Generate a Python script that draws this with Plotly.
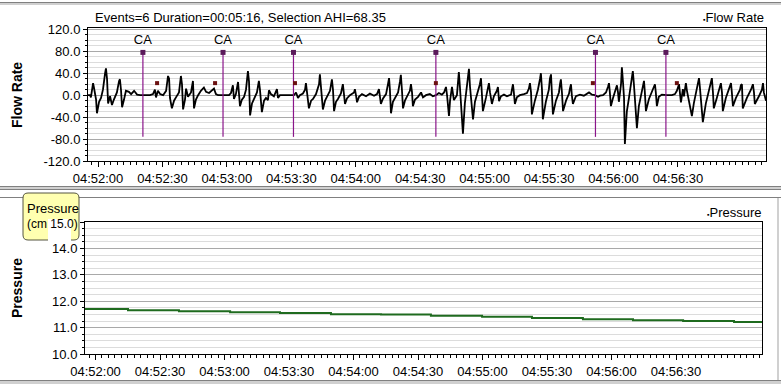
import plotly.graph_objects as go
import pandas as pd

BASE = pd.Timestamp("2000-01-01 04:52:00")

# ---------------- data (seconds relative to 04:52:00) ----------------
flow_t = [
    -4.7, -3.7, -3.3, -2.8, -2.3, -1.9, -0.9, -0.5, 0.5, 1.4, 2.3, 3.3, 3.7, 4.2, 4.7, 5.6, 6.5, 7.4, 8.8, 9.8,
    10.2, 10.7, 11.2, 12.1, 13.0, 14.4, 15.4, 16.8, 18.2, 19.6, 20.9,
    24.2, 25.6, 26.5, 27.0, 27.9, 28.9, 30.3, 31.7, 32.6, 33.1, 33.5, 34.4, 35.4, 36.3, 37.7, 38.6, 39.1, 39.6,
    40.5, 41.0, 41.9, 43.3, 44.2, 44.7, 45.6, 46.6, 47.9, 49.3, 50.3, 51.7, 53.1, 54.0, 54.9, 55.9, 58.2,
    61.0, 61.9, 62.8, 63.3, 64.2, 65.2, 65.6, 66.1, 67.0, 68.0, 68.9, 69.8, 70.3, 70.8, 71.7, 73.1, 74.0, 74.9,
    75.4, 76.3, 77.3, 78.2, 79.1, 79.6, 80.5, 81.9, 83.3, 83.8, 84.7, 91.2,
    92.2, 93.1, 94.0, 95.4, 96.4, 96.8, 97.3, 98.2, 99.2, 100.1,
    101.5, 102.9, 103.3, 103.8, 104.7, 105.7, 106.6, 108.0, 108.9, 109.4,
    109.9, 110.8, 111.7, 113.1, 114.0, 114.5, 115.0, 115.9, 117.3, 119.2,
    119.6, 120.1, 120.6, 121.5, 122.9, 124.8, 126.6, 128.5, 129.9, 130.8,
    131.3, 131.7, 132.7, 134.1, 135.0, 135.5, 135.9, 136.4, 137.3, 138.3,
    139.7, 140.6, 141.0, 141.5, 142.0, 142.9, 143.8, 145.2, 145.7, 146.2,
    146.6, 147.6, 149.0, 150.4, 151.3, 152.7, 154.5, 155.9, 157.3,
    158.7, 160.1, 161.1, 162.0, 162.5, 163.4, 163.9, 164.8, 165.7, 167.1,
    167.6, 168.0, 168.5, 169.9, 170.8, 171.8, 172.7, 173.2, 174.6, 175.5,
    176.9, 177.8, 178.3, 178.8, 179.2, 180.6, 181.5, 182.0, 182.5, 183.4,
    184.3, 185.7, 186.2, 186.7, 187.6, 189.0, 190.4, 192.3, 192.7, 193.2,
    193.6, 194.1, 195.0, 196.4, 198.3, 199.7, 200.6, 201.1, 201.6, 202.0,
    203.4, 204.8, 205.8, 206.2, 206.7, 207.1, 208.5, 209.9, 210.4, 210.9,
    211.3, 211.8, 213.2, 214.6, 215.1, 215.5, 216.0, 216.5, 217.9, 219.3,
    219.7, 220.2, 220.6, 221.1, 222.5, 224.4, 226.2, 228.6, 230.0, 231.4,
    232.8, 233.7, 235.1, 236.5, 237.4, 237.9, 238.3, 238.8, 239.7, 240.7,
    241.6, 242.1, 242.5, 243.5, 243.9, 244.4, 244.9, 245.3, 246.2, 247.2,
    248.1, 249.0, 249.5, 250.0, 250.9, 251.8, 252.8, 253.7, 254.2, 254.6,
    255.1, 256.5, 257.9, 258.8, 259.3, 259.7, 260.2, 261.1, 262.5, 264.9,
    267.2, 268.6, 269.5, 270.5, 270.9, 271.4, 271.9, 272.3, 272.8, 273.2,
    273.7, 274.2, 275.6, 276.5, 277.4, 278.8, 279.8, 280.2, 280.7, 281.6,
    283.0, 284.4, 285.4, 285.8, 286.3, 286.7, 288.1, 289.1, 289.5, 290.0,
    290.5, 290.9, 292.3, 293.7, 294.2, 294.7, 295.1, 295.6, 297.0, 298.9,
    299.3, 299.8, 300.2, 302.1, 304.0, 304.4, 304.9, 305.4, 305.8, 307.7,
    309.1, 309.6, 310.0, 311.0,
]
flow_v = [
    0, 0, -4, 12, 22, 14, -8, -33, -12, -5, 10, 40, 49, 30, -15, -2, -18, -8, 5, 26,
    29, 10, -22, -8, 8, 6, 2, 8, 1, 0, 0,
    0, 2, 10, -4, 8, 2, 0, 8, 35, 30, -5, -24, -10, -4, 5, 35, 20, -26,
    -8, 12, -3, 5, 26, -24, -8, 0, 8, 14, 6, 4, 8, 12, 2, 0, 0,
    0, 4, 18, -7, 2, 24, 5, -20, -8, -3, 10, 44, 25, -37, -15, -4, 5, 26,
    10, -31, -10, -5, -9, 9, 2, -2, 11, -5, 0, 0,
    5, -5, 0, 3, 10, 22, 8, -24, -10, -7,
    2, 20, 38, 15, -26, -10, -4, 8, 29, 10,
    -29, -12, -7, 3, 20, 5, -16, -6, 0, 5,
    11, 0, -13, -3, 2, -2, 3, -1, 2, 11,
    0, -16, -6, 2, 20, 31, 10, -33, -12, -5,
    5, 25, 37, 10, -24, -10, -4, 8, 20, 5,
    -20, -8, -3, 5, -4, 0, 2, -2, 0,
    4, 1, 5, 15, 0, -38, -10, 15, -9, 0,
    20, 42, 15, -70, -15, 15, 48, 15, -44, -12,
    5, 20, 31, 5, -29, -5, 10, 22, 5, -16,
    -2, 8, 15, -11, -2, 1, -2, 1, 10, 20,
    5, -16, -4, 0, 2, 4, 12, 22, 5, -35,
    -10, 10, 30, 40, 10, -44, -12, 10, 30, 38,
    5, -35, -10, 5, 20, 29, 5, -29, -10, 3,
    12, 20, 0, -16, -2, 1, -1, 5, 1, 0,
    -3, -1, 0, 5, 15, 22, 5, -20, -6, 5,
    18, 5, -12, 20, 51, 25, -5, -89, -30, -5,
    20, 44, 20, -5, -60, -20, -2, 15, 26, 5,
    -29, -7, 5, 15, 20, 5, -20, -3, 1, 0,
    0, 2, 8, 20, 5, -13, 0, 11, -2, 10,
    22, 8, -20, -38, -15, 10, 31, 15, -5, -49,
    -15, 10, 25, 31, 5, -24, -5, 10, 18, 22,
    5, -29, -5, 10, 18, 22, 5, -20, -5, 10,
    18, 20, -24, -5, 10, 16, 20, 5, -16, -2,
    10, 22, 5, -10,
]
assert len(flow_t) == len(flow_v)

event_t = [20.9, 58.2, 91.0, 157.3, 231.6, 264.4]
event_labels = ["CA", "CA", "CA", "CA", "CA", "CA"]
event_top = 78
event_bottom = -76
event_label_level = 99

mark_t = [27.5, 54.5, 91.7, 157.3, 230.4, 269.5]
mark_v = [22, 22, 22, 22, 22, 22]

pres_t = [-4.9, 15.1, 38.8, 62.6, 85.8, 109.5, 132.8, 156.0, 179.8, 203.0, 226.7, 250.0, 273.3, 297.0, 310.0]
pres_v = [11.70, 11.66, 11.62, 11.58, 11.55, 11.51, 11.50, 11.45, 11.41, 11.36, 11.32, 11.28, 11.25, 11.21, 11.21]

time_ticks = [0, 30, 60, 90, 120, 150, 180, 210, 240, 270]
flow_yticks = [-120, -80, -40, 0, 40, 80, 120]
pres_yticks = [10, 11, 12, 13, 14, 15]
pres_yticktext = ["10.0", "11.0", "12.0", "13.0", "14.0", ""]
title_text = "Events=6 Duration=00:05:16, Selection AHI=68.35"


def ts(secs):
    return [BASE + pd.Timedelta(seconds=s) for s in secs]


W, H = 781, 386


def px(x):
    return x / W


def py(y):
    return 1 - y / H


FONT = "Liberation Sans, Arial, sans-serif"

fig = go.Figure()

# flow rate
fig.add_trace(go.Scatter(x=ts(flow_t), y=flow_v, mode="lines",
                         line=dict(color="black", width=1.8), xaxis="x", yaxis="y"))

# event lines
ev_x, ev_y = [], []
for t in event_t:
    ev_x += ts([t, t]) + [None]
    ev_y += [event_top, event_bottom, None]
fig.add_trace(go.Scatter(x=ev_x, y=ev_y, mode="lines", line=dict(color="#8a158a", width=1.2),
                         xaxis="x", yaxis="y"))
fig.add_trace(go.Scatter(x=ts(event_t), y=[event_top] * len(event_t), mode="markers",
                         marker=dict(symbol="square", size=5, color="#5a1a5a"), xaxis="x", yaxis="y"))
fig.add_trace(go.Scatter(x=ts(event_t), y=[event_label_level] * len(event_t), mode="text",
                         text=event_labels, textposition="middle center",
                         textfont=dict(family=FONT, size=13, color="black"), xaxis="x", yaxis="y"))
fig.add_trace(go.Scatter(x=ts(mark_t), y=mark_v, mode="markers",
                         marker=dict(symbol="square", size=4, color="#6b1010"), xaxis="x", yaxis="y"))

# pressure
fig.add_trace(go.Scatter(x=ts(pres_t), y=pres_v, mode="lines", line_shape="hv",
                         line=dict(color="#1f6b1f", width=2), xaxis="x2", yaxis="y2"))

common_x = dict(type="date", tickformat="%H:%M:%S", tickmode="array", tickvals=ts(time_ticks),
                ticks="outside", ticklen=5, tickcolor="black", showline=True, linecolor="black",
                linewidth=1, mirror=True, showgrid=False, zeroline=False, automargin=False,
                tickfont=dict(family=FONT, size=13, color="black"),
                minor=dict(tickmode="linear", dtick=3000, tick0=BASE, ticks="outside", ticklen=3,
                           tickcolor="black", showgrid=False))
common_y = dict(ticks="outside", ticklen=4, tickcolor="black", showline=True, linecolor="black",
                linewidth=1, mirror=True, zeroline=False, showgrid=True, gridcolor="#a9a9a9",
                automargin=False, tickmode="array",
                tickfont=dict(family=FONT, size=13, color="black"))

fig.update_layout(
    width=W, height=H, margin=dict(l=0, r=0, t=0, b=0, autoexpand=False),
    paper_bgcolor="white", plot_bgcolor="white", showlegend=False, hovermode=False,
    font=dict(family=FONT, size=13, color="black"),
    xaxis=dict(common_x, domain=[px(88), px(766)], anchor="y",
               range=ts([-4.66, 311.0])),
    yaxis=dict(common_y, domain=[py(161), py(28)], anchor="x", range=[-120, 122.5],
               tickvals=flow_yticks, ticktext=["%.1f" % v for v in flow_yticks],
               minor=dict(tickmode="linear", dtick=10, tick0=0, ticks="outside", ticklen=2,
                          tickcolor="black", showgrid=True, gridcolor="#dcdcdc")),
    xaxis2=dict(common_x, domain=[px(85), px(762)], anchor="y2",
                range=ts([-4.9, 310.0])),
    yaxis2=dict(common_y, domain=[py(354), py(222)], anchor="x2", range=[10, 15],
                tickvals=pres_yticks, ticktext=pres_yticktext,
                minor=dict(tickmode="linear", dtick=0.25, tick0=0, ticks="outside", ticklen=2,
                           tickcolor="black", showgrid=True, gridcolor="#dcdcdc")),
)

ann = []
ann.append(dict(text=title_text, x=px(93), y=py(18), xref="paper", yref="paper",
                xanchor="left", yanchor="middle", showarrow=False,
                font=dict(family=FONT, size=13, color="black")))
ann.append(dict(text="<span style='font-size:7px'>\u25aa</span>Flow Rate", x=px(766), y=py(18),
                xref="paper", yref="paper", xanchor="right", yanchor="middle", showarrow=False,
                font=dict(family=FONT, size=13, color="black")))
ann.append(dict(text="<span style='font-size:7px'>\u25aa</span>Pressure", x=px(764), y=py(213),
                xref="paper", yref="paper", xanchor="right", yanchor="middle", showarrow=False,
                font=dict(family=FONT, size=13, color="black")))
ann.append(dict(text="<b>Flow Rate</b>", x=px(17), y=py(95), xref="paper", yref="paper",
                textangle=-90, xanchor="center", yanchor="middle", showarrow=False,
                font=dict(family=FONT, size=14, color="black")))
ann.append(dict(text="<b>Pressure</b>", x=px(17), y=py(288), xref="paper", yref="paper",
                textangle=-90, xanchor="center", yanchor="middle", showarrow=False,
                font=dict(family=FONT, size=14, color="black")))
# tooltip text (box drawn as shapes)
ann.append(dict(text="Pressure", x=px(25), y=py(208), xref="paper", yref="paper",
                xanchor="left", yanchor="middle", align="left", showarrow=False,
                font=dict(family=FONT, size=13, color="black")))
ann.append(dict(text="(cm 15.0)", x=px(25), y=py(224), xref="paper", yref="paper",
                xanchor="left", yanchor="middle", align="left", showarrow=False,
                font=dict(family=FONT, size=12, color="black")))
fig.update_layout(annotations=ann)

# window chrome separators
shapes = []
for y0, y1, col in [(2, 3, "#808080"), (3, 5, "#d0d0d0"),
                    (186, 187, "#808080"), (187, 189, "#d0d0d0"), (189, 190, "#808080"),
                    (197, 198, "#808080"),
                    (380, 381, "#808080"), (381, 384, "#d0d0d0")]:
    shapes.append(dict(type="rect", xref="paper", yref="paper", x0=0, x1=1,
                       y0=py(y1), y1=py(y0), fillcolor=col, line=dict(width=0), layer="below"))
shapes.append(dict(type="rect", xref="paper", yref="paper", x0=px(777), x1=px(779),
                   y0=py(380), y1=py(198), fillcolor="#d0d0d0", line=dict(width=0), layer="below"))

# tooltip box: rounded yellow rectangle with a white patch
x0, x1, y0, y1, r = 23, 79, 193, 240, 5
path = (f"M {px(x0 + r)},{py(y0)} L {px(x1 - r)},{py(y0)} Q {px(x1)},{py(y0)} {px(x1)},{py(y0 + r)} "
        f"L {px(x1)},{py(y1 - r)} Q {px(x1)},{py(y1)} {px(x1 - r)},{py(y1)} "
        f"L {px(x0 + r)},{py(y1)} Q {px(x0)},{py(y1)} {px(x0)},{py(y1 - r)} "
        f"L {px(x0)},{py(y0 + r)} Q {px(x0)},{py(y0)} {px(x0 + r)},{py(y0)} Z")
shapes.append(dict(type="path", xref="paper", yref="paper", path=path,
                   fillcolor="#ffffb0", line=dict(color="#555540", width=1), layer="above"))
shapes.append(dict(type="rect", xref="paper", yref="paper", x0=px(48), x1=px(71),
                   y0=py(241), y1=py(219), fillcolor="white", line=dict(width=0), layer="above"))
fig.update_layout(shapes=shapes)

fig.write_html("out.html", config={"displayModeBar": False, "staticPlot": True},
               post_script="document.body.style.margin='0px';document.body.style.overflow='hidden';")
